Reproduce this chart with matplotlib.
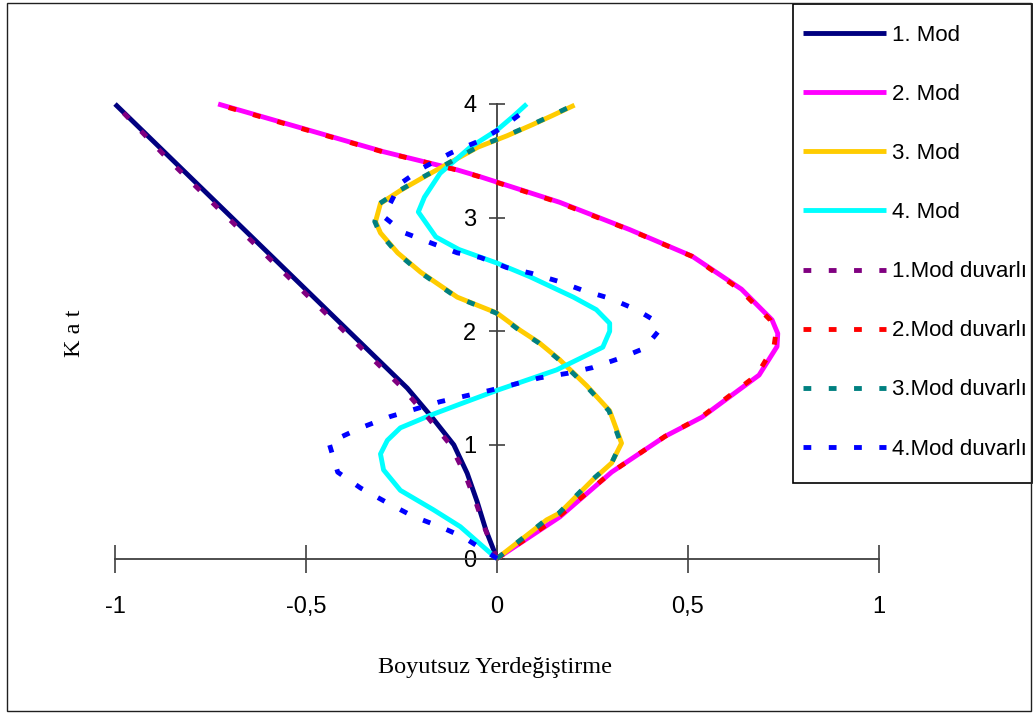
import matplotlib
matplotlib.use("Agg")
import matplotlib.pyplot as plt
from matplotlib import font_manager
from matplotlib.patches import Rectangle

# ---------------- data ----------------
mode1_x = [0, -0.029, -0.052, -0.078, -0.113, -0.172, -0.235, -0.388, -0.541, -0.694, -0.847, -1.0]
mode1_y = [0, 0.25, 0.5, 0.75, 1.0, 1.25, 1.5, 2.0, 2.5, 3.0, 3.5, 4.0]
mode1w_x = [0, -0.030, -0.056, -0.085, -0.122, -0.183, -0.247, -0.400, -0.553, -0.705, -0.857, -1.0]
mode1w_y = [0, 0.25, 0.5, 0.75, 1.0, 1.25, 1.5, 2.0, 2.5, 3.0, 3.5, 4.0]

mode2_x = [0, 0.164, 0.30, 0.44, 0.537, 0.686, 0.733, 0.735, 0.72, 0.64, 0.511, 0.347, 0.164, -0.044, -0.104, -0.297, -0.73]
mode2_y = [0, 0.365, 0.76, 1.075, 1.245, 1.614, 1.865, 1.98, 2.10, 2.37, 2.66, 2.895, 3.135, 3.36, 3.42, 3.58, 4.0]
mode2w_x = [0, 0.160, 0.30, 0.44, 0.535, 0.680, 0.725, 0.730, 0.715, 0.635, 0.510, 0.345, 0.160, -0.046, -0.106, -0.300, -0.735]
mode2w_y = [0, 0.365, 0.76, 1.075, 1.245, 1.614, 1.865, 1.98, 2.10, 2.37, 2.66, 2.895, 3.135, 3.36, 3.42, 3.58, 4.0]

mode3_x = [0, 0.13, 0.164, 0.25, 0.30, 0.326, 0.295, 0.235, 0.164, 0.11, 0.06, 0.0, -0.104, -0.20, -0.26,
           -0.305, -0.318, -0.305, -0.25, -0.19, -0.12, -0.05, 0.026, 0.094, 0.146, 0.203]
mode3_y = [0, 0.34, 0.40, 0.69, 0.84, 1.015, 1.30, 1.52, 1.75, 1.90, 2.01, 2.16, 2.30, 2.52, 2.69,
           2.865, 2.965, 3.125, 3.245, 3.36, 3.49, 3.62, 3.72, 3.82, 3.90, 3.99]
mode3w_x = [0, 0.128, 0.162, 0.248, 0.30, 0.324, 0.293, 0.233, 0.162, 0.108, 0.058, -0.002, -0.106, -0.202, -0.262,
            -0.307, -0.320, -0.307, -0.252, -0.192, -0.122, -0.052, 0.024, 0.092, 0.144, 0.20]
mode3w_y = [0, 0.34, 0.40, 0.69, 0.84, 1.015, 1.30, 1.52, 1.75, 1.90, 2.01, 2.16, 2.30, 2.52, 2.69,
            2.865, 2.965, 3.125, 3.245, 3.36, 3.49, 3.62, 3.72, 3.82, 3.90, 3.99]

mode4_x = [0, -0.018, -0.096, -0.167, -0.253, -0.297, -0.305, -0.287, -0.253, -0.175, -0.096, 0.0, 0.156,
           0.235, 0.277, 0.295, 0.295, 0.26, 0.20, 0.086, 0.0, -0.10, -0.16, -0.206, -0.19, -0.149, -0.07,
           0.0, 0.042, 0.078]
mode4_y = [0, 0.05, 0.28, 0.43, 0.60, 0.78, 0.92, 1.04, 1.15, 1.26, 1.36, 1.48, 1.66,
           1.79, 1.86, 2.0, 2.07, 2.19, 2.30, 2.48, 2.60, 2.72, 2.83, 3.05, 3.18, 3.39, 3.62,
           3.77, 3.89, 4.0]

mode4w_x = [0, -0.089, -0.149, -0.219, -0.287, -0.357, -0.417, -0.44, -0.357, -0.279, -0.149, -0.018, 0.112,
            0.185, 0.25, 0.32, 0.386, 0.425, 0.41, 0.365, 0.295, 0.225, 0.16, 0.09, 0.026, -0.044, -0.104,
            -0.175, -0.245, -0.297, -0.253, -0.193, -0.12, -0.05, 0.013, 0.068, 0.08]
mode4w_y = [0, 0.19, 0.28, 0.37, 0.49, 0.62, 0.76, 1.02, 1.15, 1.25, 1.38, 1.48, 1.59,
            1.63, 1.68, 1.76, 1.85, 2.01, 2.10, 2.19, 2.29, 2.36, 2.44, 2.51, 2.56, 2.65, 2.69,
            2.78, 2.87, 3.01, 3.30, 3.44, 3.57, 3.67, 3.79, 3.93, 4.0]

series_labels = ["1. Mod", "2. Mod", "3. Mod", "4. Mod",
                 "1.Mod duvarlı", "2.Mod duvarlı", "3.Mod duvarlı", "4.Mod duvarlı"]
series_colors = ["#000080", "#FF00FF", "#FFCC00", "#00FFFF",
                 "#800080", "#FF0000", "#008080", "#0000FF"]

x_ticks = [-1, -0.5, 0, 0.5, 1]
x_tick_labels = ["-1", "-0,5", "0", "0,5", "1"]
y_ticks = [0, 1, 2, 3, 4]
y_tick_labels = ["0", "1", "2", "3", "4"]
x_title = "Boyutsuz Yerdeğiştirme"
y_title = "K a t"

# ---------------- fonts ----------------
names = {f.name for f in font_manager.fontManager.ttflist}
if "Liberation Sans Narrow" in names:
    sans = ["Liberation Sans Narrow", "DejaVu Sans"]
    tick_fs, leg_fs = 21, 20
else:
    sans = ["Liberation Sans", "DejaVu Sans"]
    tick_fs, leg_fs = 17, 16
serif = ["Liberation Serif", "DejaVu Serif"]
leg_px = leg_fs * 100 / 72.0
row_px = 60.3

W, H = 1035, 715
fig = plt.figure(figsize=(W / 100, H / 100), dpi=100)
ax = fig.add_axes([115 / W, (H - 558.5) / H, 764 / W, 454.5 / H])
ax.set_xlim(-1, 1)
ax.set_ylim(0, 4)

xs = [mode1_x, mode2_x, mode3_x, mode4_x, mode1w_x, mode2w_x, mode3w_x, mode4w_x]
ys = [mode1_y, mode2_y, mode3_y, mode4_y, mode1w_y, mode2w_y, mode3w_y, mode4w_y]
handles = []
for i in range(8):
    if i < 4:
        ln, = ax.plot(xs[i], ys[i], color=series_colors[i], lw=3.5, solid_joinstyle="round",
                      solid_capstyle="butt", clip_on=False, zorder=3)
    else:
        ln, = ax.plot(xs[i], ys[i], color=series_colors[i], lw=3.5, linestyle=(0, (1.6, 3.6)),
                      dash_capstyle="butt", clip_on=False, zorder=4)
    handles.append(ln)

for s in ["top", "right"]:
    ax.spines[s].set_visible(False)
for s in ["left", "bottom"]:
    ax.spines[s].set_position(("data", 0))
    ax.spines[s].set_color("#404040")
    ax.spines[s].set_linewidth(1.3)
    ax.spines[s].set_zorder(2)

ax.set_xticks(x_ticks)
ax.set_xticklabels(x_tick_labels, fontfamily=sans, fontsize=tick_fs)
ax.set_yticks(y_ticks)
ax.set_yticklabels(y_tick_labels, fontfamily=sans, fontsize=tick_fs)
ax.tick_params(axis="x", direction="inout", length=20, width=1.2, color="#404040", pad=17)
ax.tick_params(axis="y", direction="inout", length=12, width=1.2, color="#404040", pad=9)
ax.patch.set_visible(False)

fig.text(495 / W, 1 - 667 / H, x_title, family=serif, fontsize=17.5, ha="center", va="center")
fig.text(74 / W, 1 - 333 / H, y_title, family=serif, fontsize=17.5, ha="center", va="center",
         rotation=90)

leg = fig.legend(handles, series_labels, loc="upper left",
                 bbox_to_anchor=(803 / W, 1 - 25 / H), frameon=False,
                 prop={"family": sans, "size": leg_fs}, handlelength=83 / leg_px,
                 handletextpad=6 / leg_px, labelspacing=row_px / leg_px - 1.0,
                 borderpad=0, borderaxespad=0)

fig.patches.append(Rectangle((793 / W, 1 - 483 / H), (1032 - 793) / W, (483 - 4) / H,
                             transform=fig.transFigure, fill=False, edgecolor="black", lw=1.2))
fig.patches.append(Rectangle((7 / W, 1 - 711 / H), (1031 - 7) / W, (711 - 3) / H,
                             transform=fig.transFigure, fill=False, edgecolor="#202020", lw=1.0))

fig.savefig("out.png", dpi=100)
